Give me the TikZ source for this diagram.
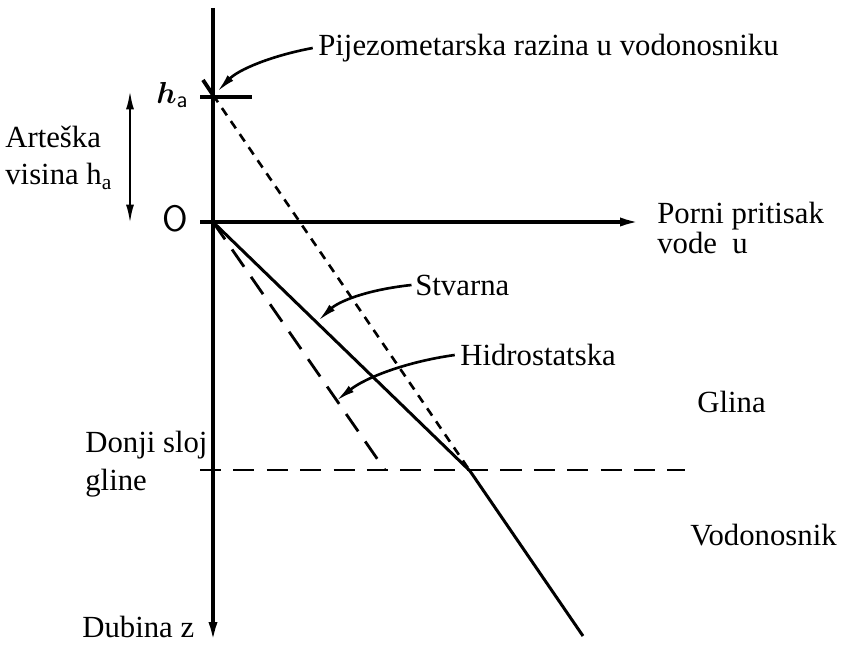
\documentclass[tikz,border=0pt]{standalone}
\usepackage{amsmath}
\usepackage{fontspec}
\setmainfont{Liberation Serif}
\usetikzlibrary{arrows.meta}
\begin{document}
\begin{tikzpicture}[x=0.02cm,y=-0.02cm,
  lbl/.style={font=\fontsize{17.5}{19}\selectfont, inner sep=0pt, anchor=west, align=left},
  axisline/.style={line width=2.2pt},
  mainline/.style={line width=1.7pt},
  longdash/.style={line width=1.6pt, dash pattern=on 12pt off 7pt},
  shortdash/.style={line width=1.5pt, dash pattern=on 5pt off 4pt},
  pointer/.style={line width=1.5pt, -{Latex[length=11pt,width=4.5pt]}},
  bigtip/.style={-{Latex[length=13pt,width=5pt]}}]
\useasboundingbox (0,0) rectangle (843,645);

% coordinates
\coordinate (vtop) at (213,8);
\coordinate (vbot) at (213,645);
\coordinate (hl) at (200,222);
\coordinate (hr) at (643,222);
\coordinate (O) at (213,222);
\coordinate (H) at (213,95);
\coordinate (X) at (470,471);
\coordinate (E) at (583,636);
\coordinate (HS) at (385,470);
\coordinate (cl) at (200,470);
\coordinate (cr) at (685,470);
\coordinate (ta) at (200,97);
\coordinate (tb) at (252,97);
\coordinate (sa) at (203,80);
\coordinate (da) at (130,90);
\coordinate (db) at (130,224);
\coordinate (ps) at (318,321);
\coordinate (ph) at (336,401);
\coordinate (pp) at (217,92);

% axes
\draw[axisline, bigtip] (vtop) -- (vbot);
\draw[axisline, bigtip] (hl) -- (hr);
\draw[axisline] (ta) -- (tb);
\draw[axisline] (sa) -- (H);

% lines
\draw[mainline] (O) -- (X) -- (E);
\draw[longdash] (O) -- (HS);
\draw[longdash] (cl) -- (cr);
\draw[shortdash] (H) -- (X);

% double arrow
\draw[line width=1.5pt, {Latex[length=11pt,width=4.5pt]}-{Latex[length=11pt,width=4.5pt]}] (da) -- (db);

% labels
\node[lbl] (pij) at (318,48) {Pijezometarska razina u vodonosniku};
\node[lbl, font=\fontsize{19}{20}\selectfont] (ha) at (156,95) {$\boldsymbol{h}_{\mathsf{a}}$};
\node[lbl, font=\fontsize{21}{22}\selectfont\sffamily] (olbl) at (162,219) {O};
\node[lbl, font=\fontsize{17.5}{21}\selectfont] (art) at (5,158) {Arteška\\visina h\textsubscript{a}};
\node[lbl, font=\fontsize{17.5}{17.6}\selectfont] (por) at (657,228) {Porni pritisak\\vode~ u};
\node[lbl] (stv) at (415,285) {Stvarna};
\node[lbl] (hid) at (460,355) {Hidrostatska};
\node[lbl] (gli) at (697,402) {Glina};
\node[lbl] (vod) at (690,535) {Vodonosnik};
\node[lbl, font=\fontsize{17.5}{21.5}\selectfont] (don) at (85,464) {Donji sloj\\gline};
\node[lbl] (dub) at (82,627) {Dubina z};

% pointers
\draw[pointer] ([xshift=-3pt]pij.west) .. controls (270,56) and (238,70) .. (pp);
\draw[pointer] ([xshift=-2pt]stv.west) .. controls (365,290) and (338,302) .. (ps);
\draw[pointer] ([xshift=-3pt]hid.west) .. controls (405,362) and (365,378) .. (ph);
\end{tikzpicture}
\end{document}
